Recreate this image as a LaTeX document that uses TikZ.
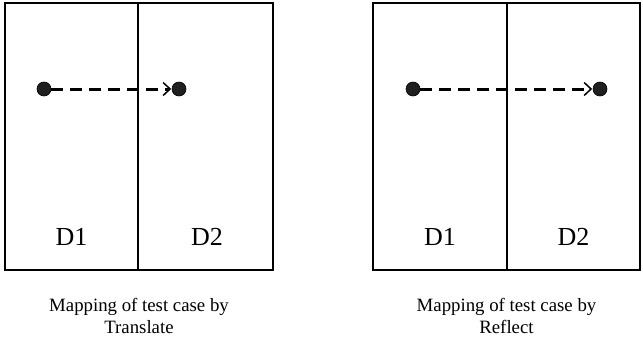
\documentclass[tikz,border=0pt]{standalone}
\usepackage{fontspec}
\setmainfont{Liberation Serif}
\usetikzlibrary{arrows.meta}
\begin{document}
\begin{tikzpicture}[x=1pt,y=-1pt,
  frame/.style={draw=black, line width=1.3pt},
  dot/.style={circle, fill=black!88, draw=black, line width=0.6pt, minimum size=14pt, inner sep=0pt},
  mapping/.style={line width=3pt, dash pattern=on 12pt off 7pt,
    -{Straight Barb[length=7pt, width=13pt, line width=1.5pt]}, shorten >=0.5pt},
  domlabel/.style={font=\fontsize{26}{30}\selectfont, anchor=base, inner sep=0pt},
  captext/.style={font=\fontsize{18.8}{22}\selectfont, align=center, anchor=base, inner sep=0pt}]
  \useasboundingbox (0,0) rectangle (643,340);

  % Translate: two domains side by side
  \draw[frame] (5,3) rectangle (273,270);
  \draw[frame] (138,3) -- (138,270);
  \node[domlabel] (t1) at (71.5,245) {D1};
  \node[domlabel] (t2) at (207,245) {D2};
  \node[dot] (ta) at (44,89) {};
  \node[dot] (tb) at (179,89) {};
  \draw[mapping] (ta) -- (tb);
  % the base anchor of a two-line node sits on its last line
  \node[captext] (tcap) at (139,333) {Mapping of test case by\\Translate};

  % Reflect: two domains side by side
  \draw[frame] (373,3) rectangle (640,270);
  \draw[frame] (507,3) -- (507,270);
  \node[domlabel] (r1) at (440,245) {D1};
  \node[domlabel] (r2) at (573.5,245) {D2};
  \node[dot] (ra) at (413,89) {};
  \node[dot] (rb) at (600,89) {};
  \draw[mapping] (ra) -- (rb);
  \node[captext] (rcap) at (506.5,333) {Mapping of test case by\\Reflect};
\end{tikzpicture}
\end{document}
